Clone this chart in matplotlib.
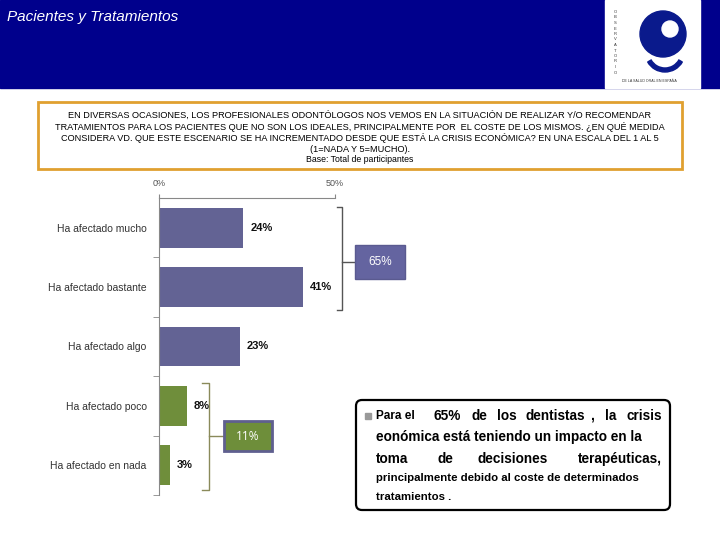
import matplotlib
matplotlib.use('Agg')
import matplotlib.pyplot as plt
from matplotlib.patches import Rectangle, FancyBboxPatch, Circle, Wedge

plt.rcParams['font.family'] = ['Liberation Sans', 'DejaVu Sans']

# datos
categorias = ['Ha afectado mucho', 'Ha afectado bastante', 'Ha afectado algo',
              'Ha afectado poco', 'Ha afectado en nada']
valores = [24, 41, 23, 8, 3]
colores = ['#636394', '#636394', '#636394', '#6F8E3B', '#6F8E3B']
etiquetas = ['24%', '41%', '23%', '8%', '3%']
total_afectado = '65%'
total_no_afectado = '11%'

titulo = 'Pacientes y Tratamientos'
pregunta = ['EN DIVERSAS OCASIONES, LOS PROFESIONALES ODONTÓLOGOS NOS VEMOS EN LA SITUACIÓN DE REALIZAR Y/O RECOMENDAR',
            'TRATAMIENTOS PARA LOS PACIENTES QUE NO SON LOS IDEALES, PRINCIPALMENTE POR  EL COSTE DE LOS MISMOS. ¿EN QUÉ MEDIDA',
            'CONSIDERA VD. QUE ESTE ESCENARIO SE HA INCREMENTADO DESDE QUE ESTÁ LA CRISIS ECONÓMICA? EN UNA ESCALA DEL 1 AL 5',
            '(1=NADA Y 5=MUCHO).']
base = 'Base: Total de participantes'

fig = plt.figure(figsize=(7.2, 5.4), dpi=100)

# capa de fondo en pixeles
bg = fig.add_axes([0, 0, 1, 1], zorder=0)
bg.set_xlim(0, 720)
bg.set_ylim(540, 0)
bg.axis('off')

# cabecera
bg.add_patch(Rectangle((0, 0), 720, 88, color='#00008C', zorder=1))
bg.text(7, 17, titulo, color='white', fontsize=11, style='italic', va='center', ha='left', zorder=3)

# logo
bg.add_patch(Rectangle((605, 0), 95, 88, color='white', zorder=2))
bg.add_patch(Circle((663, 34), 23, color='#0A1A8C', zorder=3))
bg.add_patch(Circle((670, 29), 8, color='white', zorder=4))
bg.add_patch(Wedge((665, 52), 20, 30, 150, width=4, color='#0A1A8C', zorder=3))
for i, ch in enumerate('OBSERVATORIO'):
    bg.text(615, 12 + i * 5.5, ch, fontsize=3, color='#333333', ha='center', va='center', zorder=4)
bg.text(649, 81, 'DE LA SALUD ORAL EN ESPAÑA', fontsize=2.6, color='#333333', ha='center', va='center', zorder=4)

# recuadro de la pregunta
bg.add_patch(Rectangle((38, 102), 644, 67, facecolor='white', edgecolor='#E0A030', lw=2, zorder=2))
for yy, linea in zip([115, 127, 138, 149], pregunta):
    bg.text(360, yy, linea, fontsize=6.6, ha='center', va='center', zorder=3)
bg.text(360, 159, base, fontsize=6.3, ha='center', va='center', zorder=3)

# corchete 65%
c1 = '#555555'
bg.plot([337, 342, 342, 337], [207, 207, 310, 310], color=c1, lw=1, zorder=3)
bg.plot([342, 355], [262, 262], color=c1, lw=1, zorder=3)
bg.add_patch(Rectangle((355, 245), 50, 34, facecolor='#6464A0', edgecolor='#5A5A90', lw=1, zorder=3))
bg.text(380, 262, total_afectado, color='white', fontsize=8.5, ha='center', va='center', zorder=4)

# corchete 11%
c2 = '#8A8A5A'
bg.plot([202, 209, 209, 202], [383, 383, 490, 490], color=c2, lw=1, zorder=3)
bg.plot([209, 223], [436, 436], color=c2, lw=1, zorder=3)
bg.add_patch(Rectangle((224, 421), 48, 30, facecolor='#6E8E3A', edgecolor='#5F5F8F', lw=2, zorder=3))
bg.text(248, 436.5, total_no_afectado, color='white', fontsize=8.5, ha='center', va='center',
        family=['Open Sans', 'DejaVu Sans'], zorder=4)

# cuadro de conclusion
bg.add_patch(FancyBboxPatch((356, 400), 314, 110, boxstyle='round,pad=0,rounding_size=6',
                            facecolor='white', edgecolor='black', lw=1.6, zorder=2))
bg.add_patch(Rectangle((365, 413), 6, 6, color='#999999', zorder=3))
kw = dict(fontsize=9.8, fontweight='bold', va='center', zorder=3)
bg.text(376, 416, 'Para el', fontsize=8.5, fontweight='bold', va='center', zorder=3)
for xx, w in zip([433, 472, 497, 525, 590, 605], ['65%', 'de', 'los', 'dentistas', ',', 'la']):
    bg.text(xx, 416, w, **kw)
bg.text(662, 416, 'crisis', ha='right', **kw)
bg.text(376, 437, 'eonómica está teniendo un impacto en la', **kw)
bg.text(376, 459, 'toma', **kw)
bg.text(437, 459, 'de', **kw)
bg.text(478, 459, 'decisiones', **kw)
bg.text(662, 459, 'terapéuticas,', ha='right', **kw)
kw2 = dict(fontsize=8.2, fontweight='bold', va='center', zorder=3)
bg.text(376, 478, 'principalmente debido al coste de determinados', **kw2)
bg.text(376, 497, 'tratamientos .', **kw2)

# grafico de barras
ax = fig.add_axes([159 / 720, 45 / 540, 176 / 720, 297 / 540], zorder=1)
ax.patch.set_alpha(0)
y = range(len(categorias))
ax.barh(y, valores, height=0.67, color=colores, zorder=2)
ax.set_xlim(0, 50)
ax.set_ylim(4.5, -0.5)
ax.set_yticks(list(y))
ax.set_yticklabels(categorias, fontsize=7.5, color='#333333')
ax.set_yticks([0.5, 1.5, 2.5, 3.5, 4.5], minor=True)
ax.tick_params(axis='y', which='major', length=0, pad=9)
ax.tick_params(axis='y', which='minor', length=4, color='#888888', direction='out')
ax.xaxis.tick_top()
ax.set_xticks([0, 50])
ax.set_xticklabels(['0%', '50%'], fontsize=6.5, color='#555555')
ax.tick_params(axis='x', length=3, color='#888888', pad=4)
for s in ['right', 'bottom']:
    ax.spines[s].set_visible(False)
for s in ['top', 'left']:
    ax.spines[s].set_color('#888888')
    ax.spines[s].set_linewidth(0.8)
for i, (v, t) in enumerate(zip(valores, etiquetas)):
    ax.annotate(t, (v, i), xytext=(5, 0), textcoords='offset points', va='center', ha='left',
                fontsize=8, fontweight='bold', color='#111111', annotation_clip=False)

fig.savefig('out.png', dpi=100)
